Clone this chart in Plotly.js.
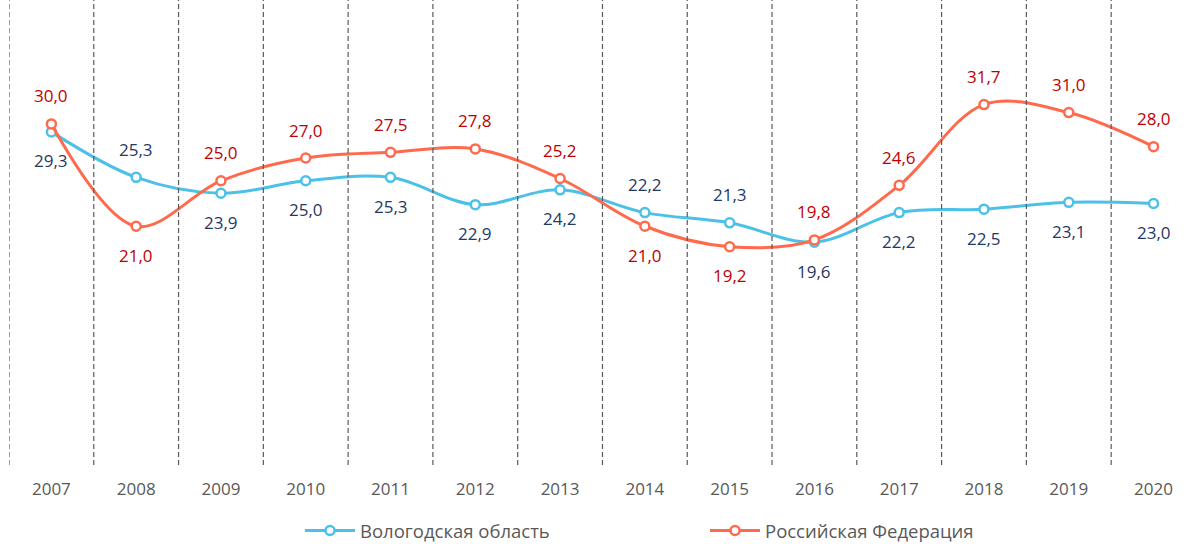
<!DOCTYPE html>
<html><head><meta charset="utf-8">
<script src="https://cdn.plot.ly/plotly-3.0.1.min.js"></script>
<style>html,body{margin:0;padding:0;background:#fff}#chart{width:1190px;height:544px}</style>
</head><body><div id="chart"></div>
<script>
const years = ['2007','2008','2009','2010','2011','2012','2013','2014','2015','2016','2017','2018','2019','2020'];
const vologda = [29.3,25.3,23.9,25.0,25.3,22.9,24.2,22.2,21.3,19.6,22.2,22.5,23.1,23.0];
const russia  = [30.0,21.0,25.0,27.0,27.5,27.8,25.2,21.0,19.2,19.8,24.6,31.7,31.0,28.0];
const vologdaLabelPos = ['below','above','below','below','below','below','below','above','above','below','below','below','below','below'];
const russiaLabelPos  = ['above','below','above','above','above','above','above','below','below','above','above','above','above','above'];
const seriesNames = ['Вологодская область','Российская Федерация'];

const idx = years.map((_, i) => i);
const fmt = v => v.toFixed(1).replace('.', ',');
const FONT = 'Open Sans, Noto Sans, sans-serif';

function trace(vals, name, color) {
  return {
    x: idx, y: vals, name: name, type: 'scatter', mode: 'lines+markers',
    line: {color: color, width: 3, shape: 'spline', smoothing: 1},
    marker: {symbol: 'circle', size: 9, color: '#ffffff', line: {color: color, width: 2.5}},
    hoverinfo: 'skip'
  };
}

const annotations = [];
function addLabels(vals, pos, color) {
  vals.forEach((v, i) => {
    annotations.push({
      x: i, y: v, xref: 'x', yref: 'y', text: fmt(v), showarrow: false,
      yshift: pos[i] === 'above' ? 28 : -29,
      font: {family: FONT, size: 17, color: color}
    });
  });
}
addLabels(vologda, vologdaLabelPos, '#1F3864');
addLabels(russia, russiaLabelPos, '#C00000');

const shapes = years.map((_, i) => ({
  type: 'line', xref: 'x', yref: 'paper', x0: i - 0.5, x1: i - 0.5, y0: 0, y1: 1,
  line: {color: '#595959', width: 1.2, dash: '5px,3px'}
}));

const layout = {
  width: 1190, height: 544,
  margin: {l: 9, r: 0, t: 0, b: 79},
  paper_bgcolor: '#ffffff', plot_bgcolor: '#ffffff',
  font: {family: FONT, size: 16, color: '#595959'},
  xaxis: {
    range: [-0.5, 13.43], tickvals: idx, ticktext: years,
    showgrid: false, zeroline: false, showline: false, ticks: '',
    ticklabelstandoff: 12,
    tickfont: {family: FONT, size: 17, color: '#595959'}, fixedrange: true
  },
  yaxis: {range: [0, 40.9], visible: false, showgrid: false, zeroline: false, fixedrange: true},
  showlegend: true,
  legend: {
    orientation: 'h', xref: 'container', yref: 'container',
    x: 300/1190, xanchor: 'left', y: 1 - 531/544, yanchor: 'middle',
    entrywidth: 340, entrywidthmode: 'pixels',
    font: {family: FONT, size: 18.5, color: '#595959'},
    itemwidth: 50, traceorder: 'normal'
  },
  annotations: annotations,
  shapes: shapes
};

Plotly.newPlot('chart', [trace(vologda, seriesNames[0], '#4BC0E8'), trace(russia, seriesNames[1], '#FF6A4D')], layout, {displayModeBar: false, staticPlot: true});
</script></body></html>
